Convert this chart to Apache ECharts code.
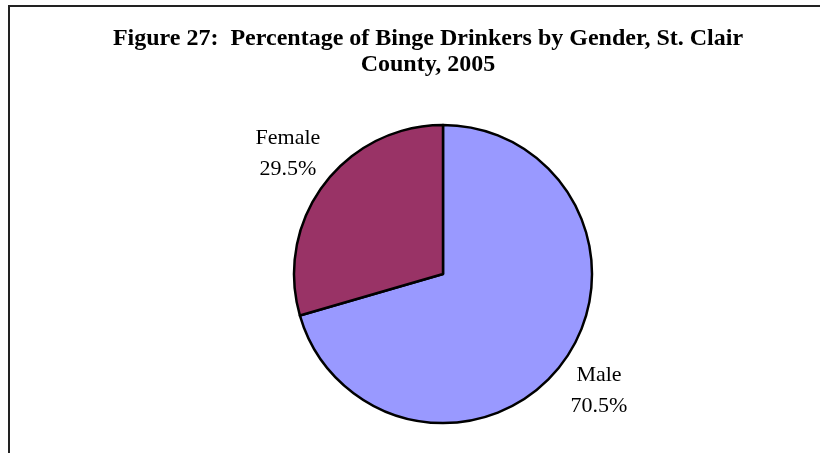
<!DOCTYPE html>
<html>
<head>
<meta charset="utf-8">
<script src="https://cdn.jsdelivr.net/npm/echarts@6/dist/echarts.min.js"></script>
<style>
  html, body { margin: 0; padding: 0; background: #fff; }
  #main { width: 820px; height: 453px; }
</style>
</head>
<body>
<div id="main"></div>
<script>
// data
var genders = ['Male', 'Female'];
var shares = [70.5, 29.5];
var sliceColors = ['#9999FF', '#993366'];
// where each label's centre sits in the picture
var labelSpots = [[599, 391], [288, 154]];

var titleText = 'Figure 27:  Percentage of Binge Drinkers by Gender, St. Clair\nCounty, 2005';

var chart = echarts.init(document.getElementById('main'));

var pieData = genders.map(function (name, i) {
    return { name: name, value: shares[i], itemStyle: { color: sliceColors[i] } };
});

var option = {
    backgroundColor: '#fff',
    animation: false,
    title: {
        text: titleText,
        left: 423,
        textAlign: 'center',
        top: 21,
        textStyle: {
            fontFamily: 'Liberation Serif',
            fontWeight: 'bold',
            fontSize: 24,
            lineHeight: 26,
            color: '#000'
        }
    },
    // frame of the chart area (only the top and left edges fall inside the picture)
    graphic: [{
        type: 'rect',
        shape: { x: 9, y: 6, width: 900, height: 600 },
        style: { fill: 'none', stroke: '#222', lineWidth: 2 },
        silent: true
    }],
    series: [{
        type: 'pie',
        center: [443, 274],
        radius: 149,
        startAngle: 90,
        clockwise: true,
        data: pieData,
        itemStyle: { borderColor: '#000', borderWidth: 2.5 },
        label: {
            show: true,
            position: 'outside',
            fontFamily: 'Liberation Serif',
            fontSize: 22,
            lineHeight: 31,
            color: '#000',
            formatter: function (p) {
                return p.name + '\n' + p.value.toFixed(1) + '%';
            }
        },
        labelLine: { show: false, length: 12, length2: 0 },
        labelLayout: function (p) {
            var r = p.labelRect;
            var spot = labelSpots[p.dataIndex];
            var anchorX = p.align === 'right' ? r.x + r.width
                : (p.align === 'center' ? r.x + r.width / 2 : r.x);
            return {
                align: 'center',
                dx: spot[0] - anchorX,
                dy: spot[1] - (r.y + r.height / 2)
            };
        },
        emphasis: { disabled: true }
    }]
};

chart.setOption(option);
</script>
</body>
</html>
